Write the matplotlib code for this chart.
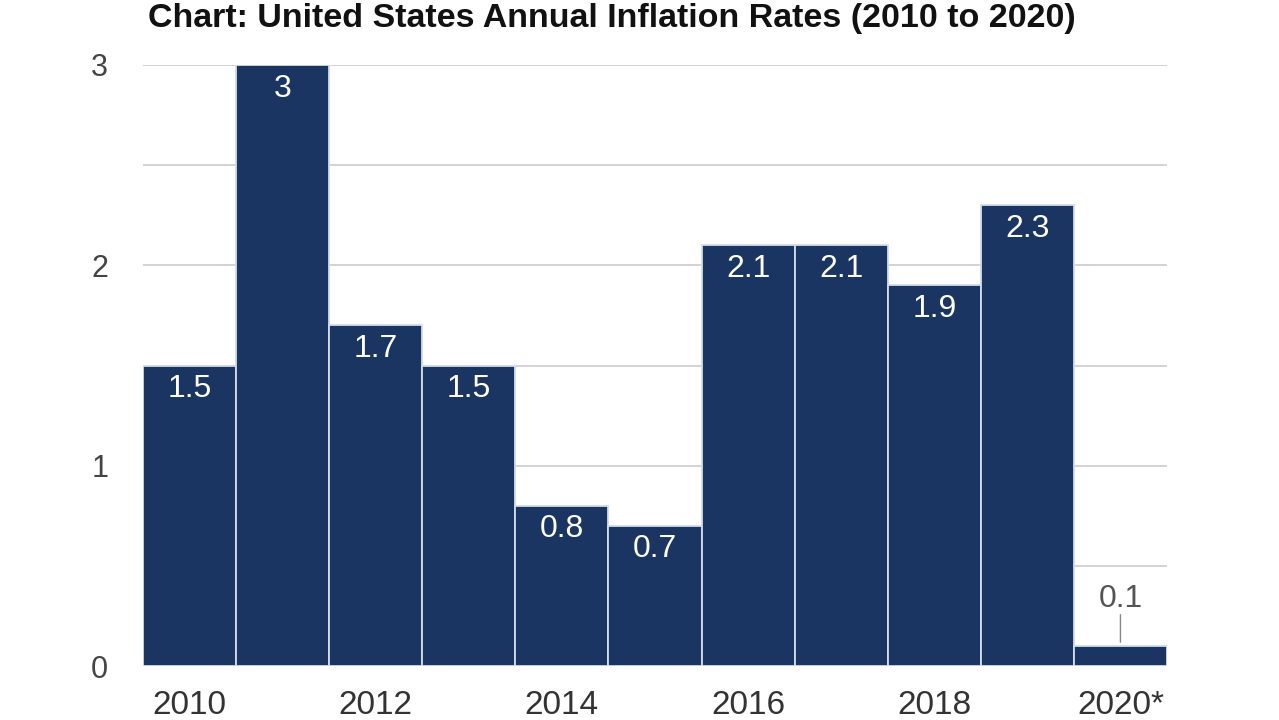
import matplotlib
matplotlib.use("Agg")
import matplotlib.pyplot as plt

plt.rcParams['font.family'] = ['Liberation Sans', 'DejaVu Sans']

years = ["2010", "2011", "2012", "2013", "2014", "2015", "2016", "2017", "2018", "2019", "2020*"]
rates = [1.5, 3.0, 1.7, 1.5, 0.8, 0.7, 2.1, 2.1, 1.9, 2.3, 0.1]
value_labels = ["1.5", "3", "1.7", "1.5", "0.8", "0.7", "2.1", "2.1", "1.9", "2.3", "0.1"]
yticks = [0, 1, 2, 3]
title = "Chart: United States Annual Inflation Rates (2010 to 2020)"

fig = plt.figure(figsize=(12.79, 7.2), dpi=100)
ax = fig.add_axes([143/1279, 1-666/720, (1167-143)/1279, (666-65)/720])

x = list(range(len(years)))
bar_color = "#1b3562"
ax.bar(x, rates, width=1.0, color=bar_color, edgecolor="#d3dcea", linewidth=1.3, zorder=3)

ax.set_xlim(-0.5, len(years) - 0.5)
ax.set_ylim(0, 3)
ax.set_yticks(yticks)
ax.set_yticklabels([str(t) for t in yticks])
ax.set_yticks([0.5, 1.5, 2.5], minor=True)
ax.grid(axis='y', which='both', color="#d0d0d0", linewidth=1.3, zorder=0)
ax.tick_params(axis='y', which='both', length=0, pad=25, labelsize=22, labelcolor="#444444")
ax.set_xticks(x[::2])
ax.set_xticklabels(years[::2])
ax.tick_params(axis='x', length=0, pad=17, labelsize=24, labelcolor="#333333")
for s in ax.spines.values():
    s.set_visible(False)

for xi, v, lab in zip(x, rates, value_labels):
    if v >= 0.5:
        ax.annotate(lab, (xi, v), xytext=(0, -17), textcoords='offset points',
                    ha='center', va='center', color='white', fontsize=23, zorder=4)
    else:
        ax.annotate(lab, (xi, v), xytext=(0, 34), textcoords='offset points',
                    ha='center', va='center', color='#555555', fontsize=23, zorder=4)
        ax.annotate("", (xi, v + 0.005), xytext=(xi, v + 0.17),
                    arrowprops=dict(arrowstyle='-', color='#888888', lw=1), zorder=4)

fig.text(612/1279, 1 - 27/720, title, ha='center', va='baseline',
         fontsize=24.5, fontweight='bold', color='#111111')

fig.savefig("out.png", dpi=100, facecolor='white')
